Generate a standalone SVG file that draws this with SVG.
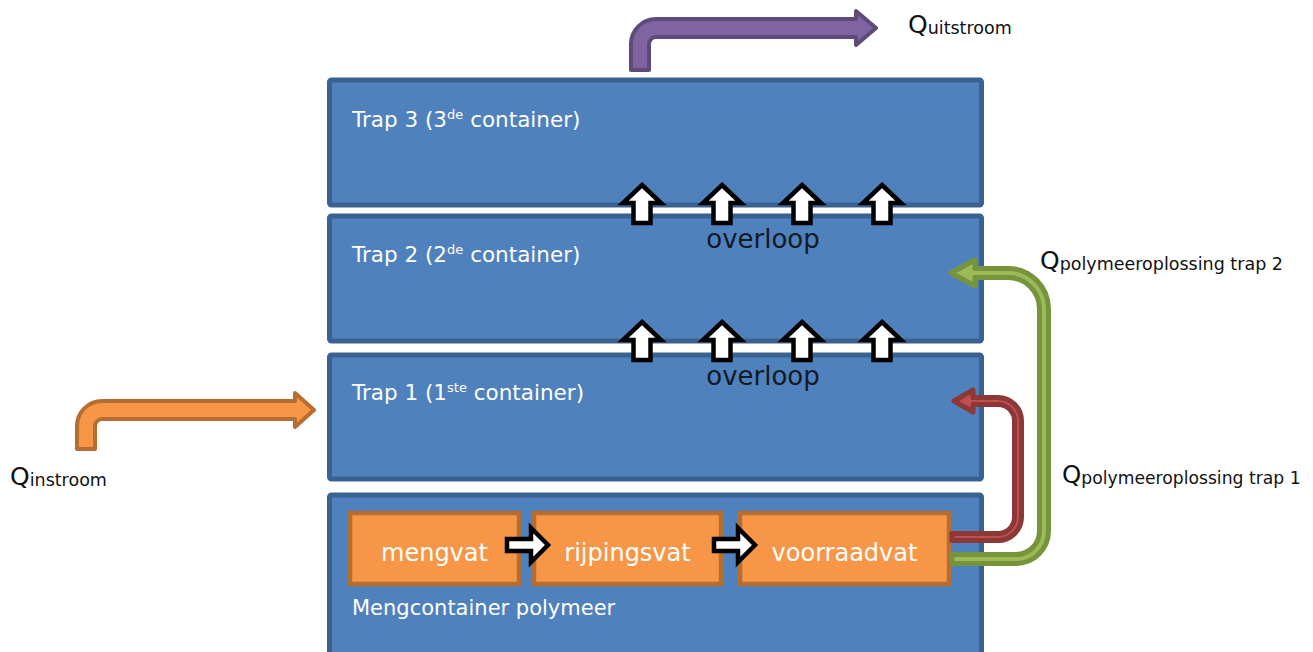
<svg xmlns="http://www.w3.org/2000/svg" width="1313" height="652" viewBox="0 0 1313 652">
<defs>
<style>
.box{fill:#4F81BD;stroke:#3A6291;stroke-width:5}
.vat{fill:#F79646;stroke:#B66D31;stroke-width:4.5}
.bt{font-family:"DejaVu Sans",Verdana,sans-serif;font-size:21.5px;fill:#FFFFFF}
.vt{font-family:"DejaVu Sans",Verdana,sans-serif;font-size:24px;fill:#FFFFFF;text-anchor:middle}
.ov{font-family:"DejaVu Sans",Verdana,sans-serif;font-size:26px;fill:#111A26;text-anchor:middle}
.q{font-family:"DejaVu Sans",Verdana,sans-serif;font-size:25px;fill:#111111}
.sub{font-size:17.5px}
.sup{font-size:13px}
.blk{fill:#FFFFFF;stroke:#000000;stroke-width:4.5;stroke-linejoin:miter}
.pur{fill:#8064A2;stroke:#5E4B7C;stroke-width:4;stroke-linejoin:round}
.ora{fill:#F79646;stroke:#B66D31;stroke-width:4;stroke-linejoin:round}
.red{fill:#C0504D;stroke:#8C3836;stroke-width:5;stroke-linejoin:round}
.grn{fill:#9BBB59;stroke:#77933C;stroke-width:5;stroke-linejoin:round}
</style>
</defs>
<rect width="1313" height="652" fill="#FFFFFF"/>

<g id="trap3">
<rect class="box" x="329.5" y="80" width="652" height="125" rx="2"/>
<text class="bt" x="352" y="127">Trap 3 (3<tspan class="sup" dy="-8">de</tspan><tspan dy="8"> container)</tspan></text>
</g>
<g id="trap2">
<rect class="box" x="329.5" y="216" width="652" height="125" rx="2"/>
<text class="bt" x="352" y="262">Trap 2 (2<tspan class="sup" dy="-8">de</tspan><tspan dy="8"> container)</tspan></text>
</g>
<g id="trap1">
<rect class="box" x="329.5" y="355" width="652" height="124" rx="2"/>
<text class="bt" x="352" y="400">Trap 1 (1<tspan class="sup" dy="-8">ste</tspan><tspan dy="8"> container)</tspan></text>
</g>
<g id="mengcontainer">
<rect class="box" x="329.5" y="495" width="652" height="170" rx="2"/>
<text class="bt" x="352" y="615" style="font-size:21px">Mengcontainer polymeer</text>
</g>

<g id="mengvat">
<rect class="vat" x="350" y="513" width="169" height="71"/>
<text class="vt" x="434.5" y="561">mengvat</text>
</g>
<g id="rijpingsvat">
<rect class="vat" x="534" y="513" width="187" height="71"/>
<text class="vt" x="627.5" y="561">rijpingsvat</text>
</g>
<g id="voorraadvat">
<rect class="vat" x="740" y="513" width="209" height="71"/>
<text class="vt" x="844.5" y="561">voorraadvat</text>
</g>

<g id="connectors">
<polygon class="blk" points="507,539 531,539 531,528 548,545 531,562 531,551 507,551"/>
<polygon class="blk" points="714,539 738,539 738,528 755,545 738,562 738,551 714,551"/>
<polygon class="blk" points="642,185 661,203 650.5,203 650.5,223 633.5,223 633.5,203 623,203"/>
<polygon class="blk" points="722,185 741,203 730.5,203 730.5,223 713.5,223 713.5,203 703,203"/>
<polygon class="blk" points="802,185 821,203 810.5,203 810.5,223 793.5,223 793.5,203 783,203"/>
<polygon class="blk" points="882,185 901,203 890.5,203 890.5,223 873.5,223 873.5,203 863,203"/>
<polygon class="blk" points="642,322 661,340 650.5,340 650.5,360 633.5,360 633.5,340 623,340"/>
<polygon class="blk" points="722,322 741,340 730.5,340 730.5,360 713.5,360 713.5,340 703,340"/>
<polygon class="blk" points="802,322 821,340 810.5,340 810.5,360 793.5,360 793.5,340 783,340"/>
<polygon class="blk" points="882,322 901,340 890.5,340 890.5,360 873.5,360 873.5,340 863,340"/>
<path class="pur" d="M631,70 L631,44 A25,25 0 0 1 656,19 L856,19 L856,11 L876,28 L856,45 L856,37 L656,37 A7,7 0 0 0 649,44 L649,70 Z"/>
<path class="ora" d="M77,449 L77,426 A25,25 0 0 1 102,401 L295,401 L295,393 L314,410 L295,427 L295,419 L102,419 A7,7 0 0 0 95,426 L95,449 Z"/>
<path class="red" d="M973,397.5 L998,397.5 A23.5,23.5 0 0 1 1021.5,421 L1021.5,517 A23.5,23.5 0 0 1 998,540.5 L952,540.5 L952,533.5 L998,533.5 A16.5,16.5 0 0 0 1014.5,517 L1014.5,421 A16.5,16.5 0 0 0 998,404.5 L973,404.5 L973,412 L954,401 L973,390 Z"/>
<path class="grn" d="M975,268.5 L1008,268.5 A40.5,40.5 0 0 1 1048.5,309 L1048.5,531 A32.5,32.5 0 0 1 1016,563.5 L952,563.5 L952,554.5 L1016,554.5 A23.5,23.5 0 0 0 1039.5,531 L1039.5,309 A31.5,31.5 0 0 0 1008,277.5 L975,277.5 L975,286 L951,273 L975,260 Z"/>
</g>

<g id="labels">
<text class="ov" x="763" y="248">overloop</text>
<text class="ov" x="763" y="385">overloop</text>
<text class="q" x="908" y="33">Q<tspan class="sub" dy="1">uitstroom</tspan></text>
<text class="q" x="10" y="485">Q<tspan class="sub" dy="1">instroom</tspan></text>
<text class="q" x="1040" y="269">Q<tspan class="sub" dy="1">polymeeroplossing trap 2</tspan></text>
<text class="q" x="1062" y="483" style="font-size:24.5px">Q<tspan class="sub" dy="1" style="font-size:17.2px">polymeeroplossing trap 1</tspan></text>
</g>
</svg>
